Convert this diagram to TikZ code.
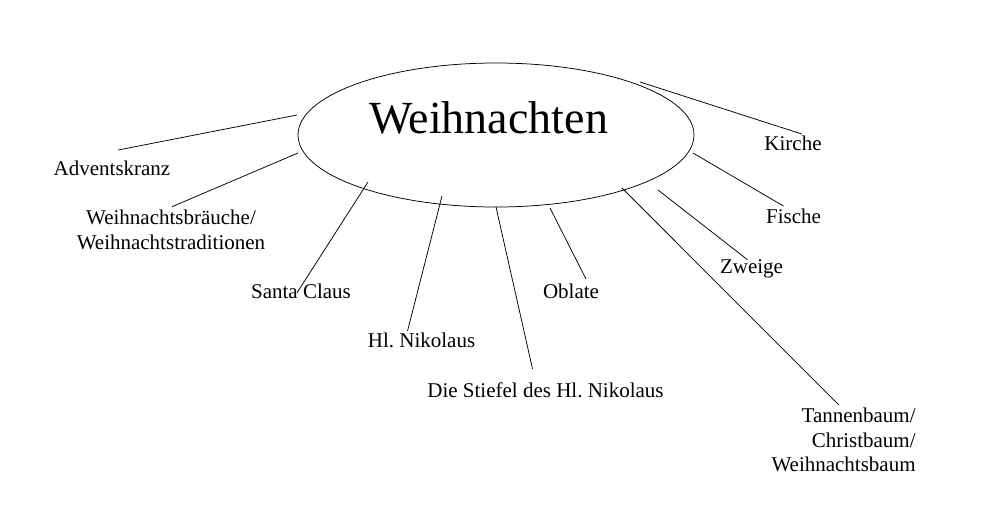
\documentclass[tikz,border=0pt]{standalone}
\usepackage{fontspec}
\setmainfont{Liberation Serif}
\usetikzlibrary{shapes.geometric}
\frenchspacing

\begin{document}
\begin{tikzpicture}[x=1pt,y=-1pt,line width=0.75pt,
    nodes={inner sep=0pt,font=\fontsize{21}{24.5}\selectfont},
    begriff/.style={anchor=base}]
  \useasboundingbox (0,0) rectangle (999,515);

  % Mitte
  \node[draw,ellipse,minimum width=396pt,minimum height=144pt] (fest) at (496,135) {};
  \node[anchor=base,font=\fontsize{46}{50}\selectfont] (titel) at (488.5,133) {Weihnachten};

  % Begriffe
  \node[begriff] (advent) at (112,175) {Adventskranz};
  \node[align=center,anchor=north] (braeuche) at (171,209.7) {Weihnachtsbräuche/\\Weihnachtstraditionen};
  \node[begriff] (santa) at (301,298) {Santa Claus};
  \node[begriff] (niko) at (421.5,347) {Hl. Nikolaus};
  \node[begriff] (stiefel) at (545.5,397) {Die Stiefel des Hl. Nikolaus};
  \node[begriff] (oblate) at (571,298) {Oblate};
  \node[align=right,anchor=north east] (tanne) at (916,407.7) {Tannenbaum/\\Christbaum/\\Weihnachtsbaum};
  \node[begriff] (zweige) at (751.5,273) {Zweige};
  \node[begriff] (fische) at (793.5,223) {Fische};
  \node[begriff] (kirche) at (793,150) {Kirche};

  % Ansatzpunkte an der Ellipse
  \coordinate (s-advent) at (297,115);
  \coordinate (s-braeuche) at (298,153);
  \coordinate (s-santa) at (368,182);
  \coordinate (s-niko) at (442,196);
  \coordinate (s-stiefel) at (496,207);
  \coordinate (s-oblate) at (550,208);
  \coordinate (s-tanne) at (622,188);
  \coordinate (s-zweige) at (658,190);
  \coordinate (s-fische) at (693,153);
  \coordinate (s-kirche) at (640,82);

  \draw (s-advent) -- ([shift={(6,-10)}]advent.north);
  \draw (s-braeuche) -- ([shift={(1,-3)}]braeuche.north);
  \draw (s-santa) -- ([shift={(-4,2)}]santa.center);
  \draw (s-niko) -- ([shift={(-14,-1)}]niko.north);
  \draw (s-stiefel) -- ([shift={(-13,-13)}]stiefel.north);
  \draw (s-oblate) -- ([shift={(15,-4)}]oblate.north);
  \draw (s-tanne) -- ([shift={(-5,-3)}]tanne.north);
  \draw (s-zweige) -- ([shift={(-4,1)}]zweige.north);
  \draw (s-fische) -- ([shift={(-10,-2)}]fische.north);
  \draw (s-kirche) -- ([shift={(9,-1)}]kirche.north);
\end{tikzpicture}
\end{document}
